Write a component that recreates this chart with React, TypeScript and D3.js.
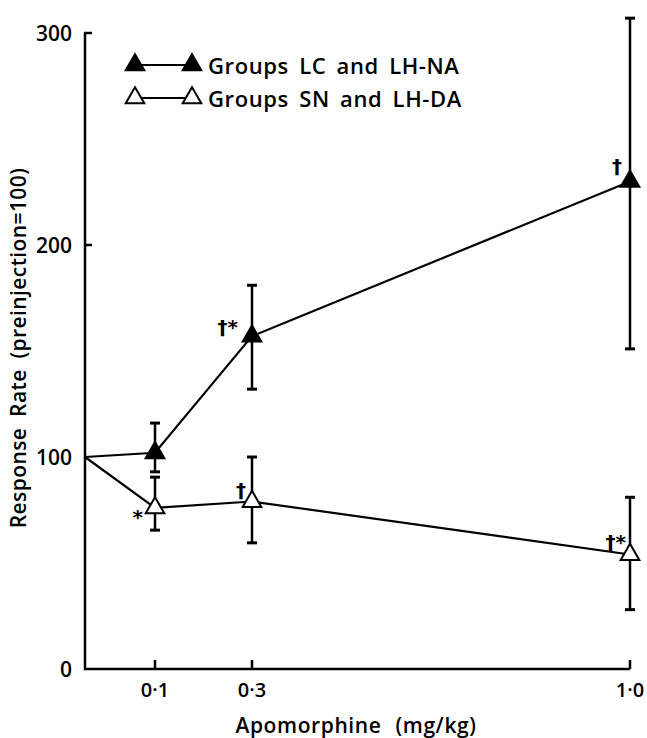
import { useRef, useEffect } from 'react';
import * as d3 from 'd3';

// apomorphine doses (mg/kg); 0 = preinjection baseline
const doses = [0, 0.1, 0.3, 1.0];
const doseLabels = ['', '0·1', '0·3', '1·0'];
const yTicks = [0, 100, 200, 300];

// Groups LC and LH-NA (filled triangles)
const naMean = [100, 102, 157, 230];
const naHigh = [100, 116, 181, 307];
const naLow = [100, 93, 132, 151];

// Groups SN and LH-DA (open triangles)
const daMean = [100, 76, 79, 54];
const daHigh = [100, 90.5, 100, 81];
const daLow = [100, 65.5, 59.5, 28];

// significance marks: series, dose index, label
const marks = [
  { series: 'na', i: 2, text: '†*' },
  { series: 'na', i: 3, text: '†' },
  { series: 'da', i: 1, text: '*' },
  { series: 'da', i: 2, text: '†' },
  { series: 'da', i: 3, text: '†*' },
];

const FONT = '"Open Sans", Lato, sans-serif';

export default function App() {
  const svgRef = useRef<SVGSVGElement>(null);

  useEffect(() => {
    if (!svgRef.current) return;
    const width = 647;
    const height = 738;
    const svg = d3.select(svgRef.current);
    svg.selectAll('*').remove();
    svg.attr('width', width).attr('height', height);

    // hand-drawn dose axis isn't quite linear, so map each dose stop
    const x = d3.scaleLinear()
      .domain(doses)
      .range([85, 155, 252, 630]);
    const y = d3.scaleLinear()
      .domain([0, 300])
      .range([669, 33]);

    const g = svg.append('g');

    // Axes
    g.append('path')
      .attr('d', `M${x(0)},${y(300)}V${y(0)}H${x(1)}`)
      .attr('fill', 'none')
      .attr('stroke', '#000')
      .attr('stroke-width', 2.5);

    // y ticks (inward)
    g.selectAll('line.ytick')
      .data(yTicks.filter(d => d === 200 || d === 300))
      .join('line')
      .attr('class', 'ytick')
      .attr('x1', x(0) - 1)
      .attr('x2', x(0) + 7)
      .attr('y1', d => y(d))
      .attr('y2', d => y(d))
      .attr('stroke', '#000')
      .attr('stroke-width', 2.5);

    g.selectAll('text.ylab')
      .data(yTicks)
      .join('text')
      .attr('class', 'ylab')
      .attr('x', x(0) - 13)
      .attr('y', d => y(d))
      .attr('dy', '0.36em')
      .attr('text-anchor', 'end')
      .attr('font-family', FONT)
      .attr('font-size', '21px')
      .attr('font-weight', 600)
      .text(d => d);

    // x ticks (inward, upward)
    const xt = doses.slice(1);
    g.selectAll('line.xtick')
      .data(xt)
      .join('line')
      .attr('class', 'xtick')
      .attr('x1', d => x(d))
      .attr('x2', d => x(d))
      .attr('y1', y(0))
      .attr('y2', y(0) - 9)
      .attr('stroke', '#000')
      .attr('stroke-width', 2.5);

    g.selectAll('text.xlab')
      .data(xt)
      .join('text')
      .attr('class', 'xlab')
      .attr('x', d => x(d))
      .attr('y', y(0) + 28)
      .attr('text-anchor', 'middle')
      .attr('font-family', FONT)
      .attr('font-size', '20px')
      .attr('font-weight', 600)
      .text(d => doseLabels[doses.indexOf(d)]);

    // axis titles
    g.append('text')
      .attr('x', 356)
      .attr('y', 733)
      .attr('text-anchor', 'middle')
      .attr('font-family', FONT)
      .attr('font-size', '21px')
      .attr('font-weight', 600)
      .attr('letter-spacing', '0.6px')
      .attr('word-spacing', '8px')
      .text('Apomorphine (mg/kg)');

    g.append('text')
      .attr('transform', `translate(26,348) rotate(-90)`)
      .attr('text-anchor', 'middle')
      .attr('font-family', FONT)
      .attr('font-size', '21px')
      .attr('font-weight', 600)
      .attr('letter-spacing', '0.4px')
      .attr('word-spacing', '5px')
      .text('Response Rate (preinjection=100)');

    const series = [
      { key: 'na', mean: naMean, high: naHigh, low: naLow, fill: '#000' },
      { key: 'da', mean: daMean, high: daHigh, low: daLow, fill: '#fff' },
    ];

    const tri = d3.symbol(d3.symbolTriangle, 150);
    const line = d3.line<number>()
      .x((_, i) => x(doses[i]))
      .y(d => y(d));

    // error bars
    series.forEach(s => {
      const idx = d3.range(1, doses.length);
      const eb = g.append('g');
      eb.selectAll('line.bar')
        .data(idx)
        .join('line')
        .attr('x1', i => x(doses[i]))
        .attr('x2', i => x(doses[i]))
        .attr('y1', i => y(s.high[i]))
        .attr('y2', i => y(s.low[i]))
        .attr('stroke', '#000')
        .attr('stroke-width', 2.5);
      ['high', 'low'].forEach(k => {
        eb.selectAll(`line.cap-${k}`)
          .data(idx)
          .join('line')
          .attr('class', `cap-${k}`)
          .attr('x1', i => x(doses[i]) - 5)
          .attr('x2', i => x(doses[i]) + 5)
          .attr('y1', i => y((s as any)[k][i]))
          .attr('y2', i => y((s as any)[k][i]))
          .attr('stroke', '#000')
          .attr('stroke-width', 3);
      });
    });

    // connecting lines
    series.forEach(s => {
      g.append('path')
        .attr('d', line(s.mean))
        .attr('fill', 'none')
        .attr('stroke', '#000')
        .attr('stroke-width', 2.2);
    });

    // markers
    series.forEach(s => {
      g.selectAll(`path.m-${s.key}`)
        .data(d3.range(1, doses.length))
        .join('path')
        .attr('class', `m-${s.key}`)
        .attr('transform', i => `translate(${x(doses[i])},${y(s.mean[i])})`)
        .attr('d', tri())
        .attr('fill', s.fill)
        .attr('stroke', '#000')
        .attr('stroke-width', 2);
    });

    // significance marks
    const markPos: Record<string, [number, number]> = {
      'na-2': [-14, -2],
      'na-3': [-8, -8],
      'da-1': [-12, 16],
      'da-2': [-6, -5],
      'da-3': [-4, -6],
    };
    g.selectAll('text.mark')
      .data(marks)
      .join('text')
      .attr('class', 'mark')
      .attr('x', d => x(doses[d.i]) + markPos[`${d.series}-${d.i}`][0])
      .attr('y', d => y((d.series === 'na' ? naMean : daMean)[d.i]) + markPos[`${d.series}-${d.i}`][1])
      .attr('text-anchor', 'end')
      .attr('font-family', 'DejaVu Sans, sans-serif')
      .attr('font-size', '20px')
      .attr('font-weight', 'bold')
      .text(d => d.text);

    // legend
    const legend = g.append('g').attr('transform', 'translate(135,65)');
    series.forEach((s, k) => {
      const row = legend.append('g').attr('transform', `translate(0,${k * 33})`);
      row.append('line')
        .attr('x1', 0).attr('x2', 57)
        .attr('y1', 0).attr('y2', 0)
        .attr('stroke', '#000')
        .attr('stroke-width', 2);
      [0, 57].forEach(px => {
        row.append('path')
          .attr('transform', `translate(${px},0)`)
          .attr('d', tri())
          .attr('fill', s.fill)
          .attr('stroke', '#000')
          .attr('stroke-width', 2);
      });
      row.append('text')
        .attr('x', 73)
        .attr('y', 1)
        .attr('dy', '0.36em')
        .attr('font-family', FONT)
        .attr('font-size', '22px')
        .attr('font-weight', 600)
        .attr('letter-spacing', '0.6px')
        .attr('word-spacing', '4px')
        .text(k === 0 ? 'Groups LC and LH-NA' : 'Groups SN and LH-DA');
    });
  }, []);

  return (
    <svg
      ref={svgRef}
      style={{ position: 'absolute', left: 0, top: 0, background: '#fff' }}
    />
  );
}
